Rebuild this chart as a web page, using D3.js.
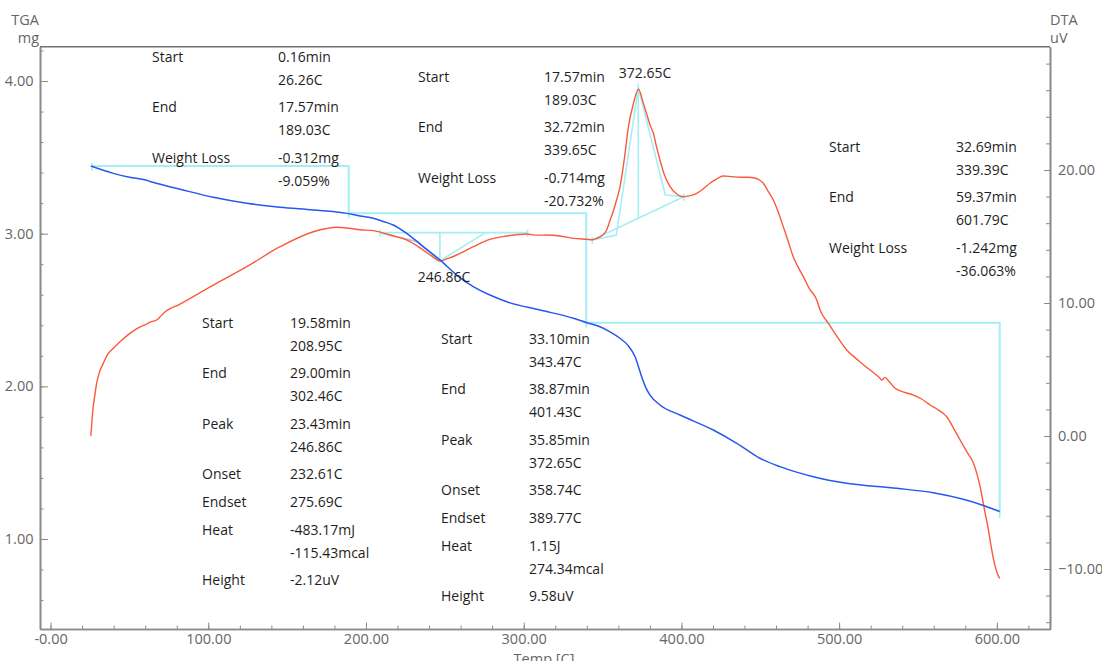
<!DOCTYPE html>
<html>
<head>
<meta charset="utf-8">
<script src="https://cdn.jsdelivr.net/npm/d3@7"></script>
<style>
  body { margin: 0; background: #fff; }
  svg { display: block; font-family: "Open Sans", sans-serif; }
  .tick text { fill: #666; font-size: 14.5px; font-family: "Open Sans", sans-serif; }
  .axis path, .axis line { stroke: #8a8a8a; }
  .note { fill: #1e1e1e; font-size: 14px; }
</style>
</head>
<body>
<script>
// TGA curve (mass, mg) against temperature (C)
var tgaTemp = [25.5, 39.8, 50, 60.9, 63, 67, 82.1, 103.2, 124.4, 145.5, 166.6, 187.8, 196.2, 204.7, 211, 217.3, 225.8,
  236.3, 246.9, 257.5, 268, 278.6, 289.2, 310.3, 331.5, 340, 348.4, 355, 361, 366, 370.6, 374.8, 377.5, 380.1,
  386.4, 399.1, 420.2, 435.1, 449.8, 462.5, 483.6, 504.8, 536.5, 559.7, 578.7, 590, 601.8]
var tgaMass = [3.443, 3.395, 3.37, 3.35, 3.342, 3.33, 3.291, 3.238, 3.199, 3.173, 3.155, 3.133, 3.116, 3.101, 3.08, 3.057, 3.002,
  2.915, 2.828, 2.729, 2.653, 2.598, 2.554, 2.5, 2.446, 2.417, 2.39, 2.355, 2.315, 2.27, 2.194, 2.063, 1.99, 1.943,
  1.878, 1.812, 1.714, 1.627, 1.529, 1.474, 1.408, 1.365, 1.332, 1.303, 1.26, 1.225, 1.18]

// DTA curve (uV) against temperature (C)
var dtaTemp = [25.5, 26.3, 26.8, 28, 29.2, 31, 33.4, 36, 39.8, 45, 50.3, 55, 60.9, 64, 67.2, 69, 71.5, 82.1, 103.2,
  124.4, 145.5, 166.6, 175, 181.4, 189, 196.2, 204.7, 215.2, 225.8, 236.3, 242, 246.9, 252, 257.5, 268, 278.6,
  289.2, 301.9, 308, 314.6, 323, 331.5, 340, 343.5, 346.3, 349.5, 352.6, 354.8, 356.8, 359, 361.1, 364, 366.4,
  369.6, 372.7, 375.9, 378, 380.1, 382.2, 384.3, 386.4, 389, 392.8, 397, 401.2, 405, 409.7, 414, 418.1, 422,
  426.6, 432, 437.1, 442, 446.6, 449.5, 451.9, 455, 458.3, 461.5, 464.6, 467.8, 470.9, 474, 477.3, 481, 485.8,
  487.9, 493.2, 498, 504.8, 512, 519.6, 524, 525.9, 527, 529.1, 531, 535.5, 541, 547.1, 552, 557.7, 563, 568.2,
  572.5, 576.7, 581, 585.2, 587.5, 589.4, 591, 592.6, 594.7, 596.5, 598.5, 600.5, 601.8]
var dtaSignal = [0.0, 1.2, 1.95, 3.0, 3.96, 4.8, 5.46, 6.1, 6.59, 7.2, 7.72, 8.1, 8.42, 8.6, 8.72, 8.9, 9.22, 9.92, 11.35,
  12.73, 14.23, 15.36, 15.6, 15.69, 15.62, 15.51, 15.44, 15.11, 14.74, 13.98, 13.5, 13.16, 13.35, 13.61, 14.23, 14.79,
  15.04, 15.19, 15.1, 15.11, 15.04, 14.86, 14.79, 14.76, 14.86, 15.05, 15.49, 16.24, 16.9, 17.8, 18.75, 21, 23.26,
  25.01, 26.07, 25.01, 24.2, 23.38, 22.76, 21.7, 20.75, 19.7, 18.75, 18.2, 17.99, 18.05, 18.25, 18.6, 19.0, 19.3,
  19.55, 19.5, 19.45, 19.45, 19.4, 19.25, 19.0, 18.4, 17.74, 16.8, 15.74, 14.6, 13.48, 12.7, 11.98, 11.1, 10.23,
  9.47, 8.47, 7.6, 6.47, 5.7, 4.96, 4.55, 4.34, 4.2, 4.41, 4.2, 3.59, 3.3, 3.08, 2.8, 2.33, 1.95, 1.45,
  0.6, -0.3, -1.2, -2.05, -2.9, -3.81, -4.8, -5.81, -7.07, -8.4, -9.6, -10.4, -10.7]

// tick labels
var tempTicks = [0, 100, 200, 300, 400, 500, 600]
var massTicks = [1, 2, 3, 4]
var dtaTicks = [-10, 0, 10, 20]

// weight loss steps of the TGA
var stepTemp = [26.26, 189.03, 339.65, 601.79]
var stepMass = [3.443, 3.133, 2.417, 1.17]

// DTA peaks: start, onset, peak, endset, end (C) and the signal there (uV)
var endoTemp = [208.95, 232.61, 246.86, 275.69, 302.46]
var endoSignal = [15.29, 14.6, 13.16, 15.29, 15.29]
var exoTemp = [343.47, 358.74, 372.65, 389.77, 401.43]
var exoSignal = [14.74, 15.11, 26.2, 18.12, 17.99]
var exoPeakBase = 16.4

// annotation texts
var step1Rows = [["Start", "0.16min"], ["", "26.26C"], ["End", "17.57min"], ["", "189.03C"],
  ["Weight Loss", "-0.312mg"], ["", "-9.059%"]]
var step2Rows = [["Start", "17.57min"], ["", "189.03C"], ["End", "32.72min"], ["", "339.65C"],
  ["Weight Loss", "-0.714mg"], ["", "-20.732%"]]
var step3Rows = [["Start", "32.69min"], ["", "339.39C"], ["End", "59.37min"], ["", "601.79C"],
  ["Weight Loss", "-1.242mg"], ["", "-36.063%"]]
var endoRows = [["Start", "19.58min"], ["", "208.95C"], ["End", "29.00min"], ["", "302.46C"],
  ["Peak", "23.43min"], ["", "246.86C"], ["Onset", "232.61C"], ["Endset", "275.69C"],
  ["Heat", "-483.17mJ"], ["", "-115.43mcal"], ["Height", "-2.12uV"]]
var exoRows = [["Start", "33.10min"], ["", "343.47C"], ["End", "38.87min"], ["", "401.43C"],
  ["Peak", "35.85min"], ["", "372.65C"], ["Onset", "358.74C"], ["Endset", "389.77C"],
  ["Heat", "1.15J"], ["", "274.34mcal"], ["Height", "9.58uV"]]

// layout
var W = 1102, H = 661
var plotL = 40, plotR = 1050, plotT = 46.7, plotB = 629
var cyan = "#a4eef4"

var svg = d3.select("body").append("svg")
    .attr("width", W)
    .attr("height", H)

var x = d3.scaleLinear().domain([-6.7, 633.7]).range([plotL, plotR])
var yL = d3.scaleLinear().domain([0.4106, 4.2247]).range([plotB, plotT])
var yR = d3.scaleLinear().domain([-14.51, 29.27]).range([plotB, plotT])

// axes
function minor(lo, hi, step) {
  var out = []
  for (var v = lo; v <= hi + 1e-9; v += step) out.push(Math.round(v * 1000) / 1000)
  return out
}

svg.append("g").attr("class", "axis")
  .attr("transform", "translate(0," + plotB + ")")
  .call(d3.axisBottom(x).tickValues(minor(0, 620, 20)).tickSize(-3.5).tickSizeOuter(0).tickFormat(""))
svg.append("g").attr("class", "axis")
  .attr("transform", "translate(0," + plotB + ")")
  .call(d3.axisBottom(x).tickValues(tempTicks).tickSize(-6.5).tickSizeOuter(0).tickPadding(5)
    .tickFormat(d => d === 0 ? "-0.00" : d3.format(".2f")(d)))

svg.append("g").attr("class", "axis")
  .attr("transform", "translate(" + plotL + ",0)")
  .call(d3.axisLeft(yL).tickValues(minor(0.6, 4.2, 0.2)).tickSize(-3.5).tickSizeOuter(0).tickFormat(""))
svg.append("g").attr("class", "axis")
  .attr("transform", "translate(" + plotL + ",0)")
  .call(d3.axisLeft(yL).tickValues(massTicks).tickSize(-8).tickSizeOuter(0).tickPadding(6.5)
    .tickFormat(d3.format(".2f")))

svg.append("g").attr("class", "axis")
  .attr("transform", "translate(" + plotR + ",0)")
  .call(d3.axisRight(yR).tickValues(minor(-14, 28, 2)).tickSize(-4).tickSizeOuter(0).tickFormat(""))
svg.append("g").attr("class", "axis")
  .attr("transform", "translate(" + plotR + ",0)")
  .call(d3.axisRight(yR).tickValues(dtaTicks).tickSize(-6).tickSizeOuter(0).tickPadding(8)
    .tickFormat(d3.format(".2f")))

svg.selectAll(".axis .domain").attr("stroke-width", 1.6)
svg.append("line")
  .attr("x1", plotL).attr("x2", plotR).attr("y1", plotT).attr("y2", plotT)
  .attr("stroke", "#707070").attr("stroke-width", 1.4)

// axis titles
var titleStyle = t => t.attr("fill", "#666").attr("font-size", 14.5)
svg.append("text").attr("x", 39).attr("y", 25).attr("text-anchor", "end").text("TGA").call(titleStyle)
svg.append("text").attr("x", 39).attr("y", 43).attr("text-anchor", "end").text("mg").call(titleStyle)
svg.append("text").attr("x", 1050).attr("y", 25).text("DTA").call(titleStyle)
svg.append("text").attr("x", 1050).attr("y", 43).text("uV").call(titleStyle)
svg.append("text").attr("x", 544).attr("y", 664).attr("text-anchor", "middle").text("Temp  [C]").call(titleStyle)

// cyan analysis lines
var cy = svg.append("g").attr("fill", "none").attr("stroke", cyan).attr("stroke-width", 1.6)

var stepPts = [[stepTemp[0], stepMass[0]]]
for (var i = 1; i < stepTemp.length; i++) {
  stepPts.push([stepTemp[i], stepMass[i - 1]])
  stepPts.push([stepTemp[i], stepMass[i]])
}
cy.append("path")
  .attr("d", d3.line().x(d => x(d[0])).y(d => yL(d[1]))(stepPts))
  .attr("stroke-width", 2)
stepTemp.forEach((t, i) => {
  cy.append("line")
    .attr("x1", x(t)).attr("x2", x(t))
    .attr("y1", yL(stepMass[i]) - 3).attr("y2", yL(stepMass[i]) + 5)
})

var lineR = d3.line().x(d => x(d[0])).y(d => yR(d[1]))

// endothermic peak
cy.append("path").attr("d", lineR([[endoTemp[0], endoSignal[0]], [endoTemp[4], endoSignal[4]]]))
cy.append("path").attr("d", lineR([[endoTemp[0], endoSignal[0]], [endoTemp[1], endoSignal[1]], [endoTemp[2], endoSignal[2]]]))
  .attr("stroke", "#b8c8c8")
cy.append("path").attr("d", lineR([[endoTemp[2], endoSignal[2]], [endoTemp[3], endoSignal[3]]]))
cy.append("path").attr("d", lineR([[endoTemp[2], endoSignal[0]], [endoTemp[2], endoSignal[2]]]))
;[0, 4].forEach(k => {
  cy.append("line")
    .attr("x1", x(endoTemp[k])).attr("x2", x(endoTemp[k]))
    .attr("y1", yR(endoSignal[k]) - 3).attr("y2", yR(endoSignal[k]) + 4)
})

// exothermic peak
cy.append("path").attr("d", lineR([[exoTemp[0], exoSignal[0]], [exoTemp[4], exoSignal[4]]]))
cy.append("path").attr("d", lineR([[exoTemp[0], exoSignal[0]], [exoTemp[1], exoSignal[1]], [exoTemp[2], exoSignal[2]]]))
cy.append("path").attr("d", lineR([[exoTemp[2], exoSignal[2]], [exoTemp[3], exoSignal[3]], [exoTemp[4], exoSignal[4]]]))
cy.append("path").attr("d", lineR([[exoTemp[2], exoSignal[2] + 0.3], [exoTemp[2], exoPeakBase]]))
;[0, 4].forEach(k => {
  cy.append("line")
    .attr("x1", x(exoTemp[k])).attr("x2", x(exoTemp[k]))
    .attr("y1", yR(exoSignal[k]) - 3).attr("y2", yR(exoSignal[k]) + 4)
})

// curves
svg.append("path")
  .datum(d3.zip(dtaTemp, dtaSignal))
  .attr("fill", "none")
  .attr("stroke", "#fa5a3c")
  .attr("stroke-width", 1.4)
  .attr("d", d3.line().curve(d3.curveMonotoneX).x(d => x(d[0])).y(d => yR(d[1])))

svg.append("path")
  .datum(d3.zip(tgaTemp, tgaMass))
  .attr("fill", "none")
  .attr("stroke", "#2458f0")
  .attr("stroke-width", 1.5)
  .attr("d", d3.line().curve(d3.curveMonotoneX).x(d => x(d[0])).y(d => yL(d[1])))

// peak labels
svg.append("text").attr("class", "note")
  .attr("x", 645).attr("y", 78).attr("text-anchor", "middle").text(exoRows[5][1])
svg.append("text").attr("class", "note")
  .attr("x", 444).attr("y", 282).attr("text-anchor", "middle").text(endoRows[5][1])

// text blocks
function drawBlock(rows, lx, vx, y0) {
  var y = y0
  rows.forEach((r, i) => {
    if (i > 0) y += r[0] ? 27.7 : 22.8
    if (r[0]) svg.append("text").attr("class", "note").attr("x", lx).attr("y", y).attr("dy", "0.35em").text(r[0])
    svg.append("text").attr("class", "note").attr("x", vx).attr("y", y).attr("dy", "0.35em").text(r[1])
  })
}

drawBlock(step1Rows, 152, 278, 57)
drawBlock(step2Rows, 418, 544, 77)
drawBlock(step3Rows, 829, 956, 147)
drawBlock(endoRows, 202, 290, 323)
drawBlock(exoRows, 441, 529, 339)
</script>
</body>
</html>
